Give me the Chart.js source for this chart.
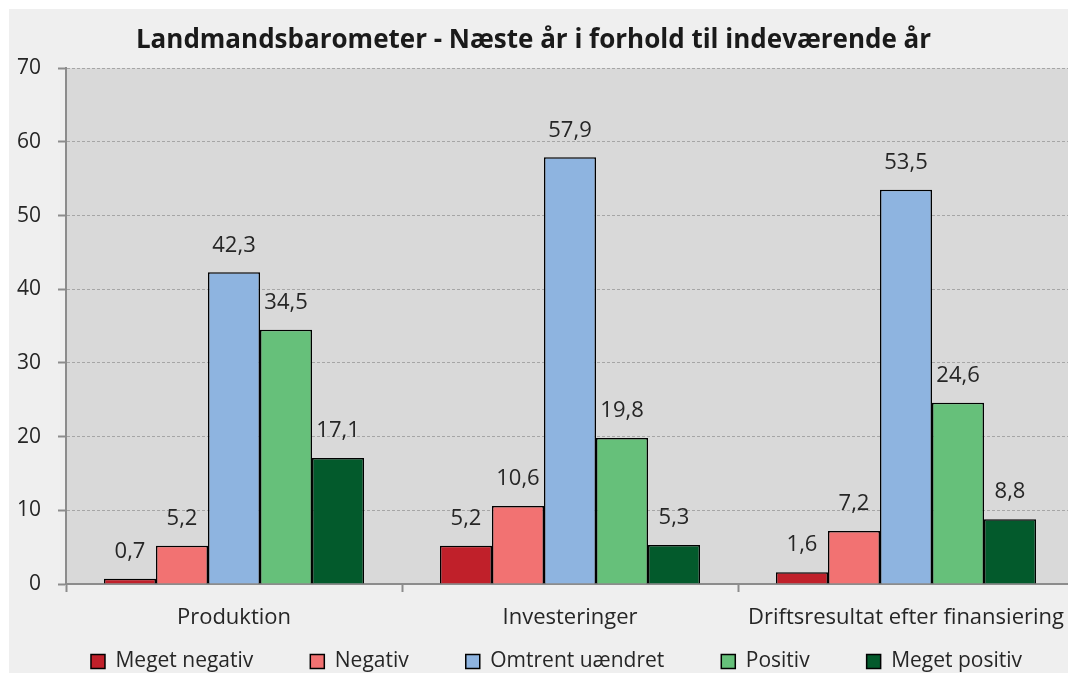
<!DOCTYPE html>
<html>
<head>
<meta charset="utf-8">
<script src="https://cdn.jsdelivr.net/npm/chart.js@4"></script>
<style>
  html, body { margin: 0; padding: 0; background: #ffffff; overflow: hidden; }
  #wrap { position: absolute; left: 9px; top: 9px; width: 1085px; height: 664px; background: #efefef; }
</style>
</head>
<body>
<div id="wrap"><canvas id="chart" width="1085" height="664"></canvas></div>
<script>
// Categories and series
const categories = ['Produktion', 'Investeringer', 'Driftsresultat efter finansiering'];
const seriesNames = ['Meget negativ', 'Negativ', 'Omtrent uændret', 'Positiv', 'Meget positiv'];
const megetNegativ = [0.7, 5.2, 1.6];
const negativ = [5.2, 10.6, 7.2];
const omtrentUaendret = [42.3, 57.9, 53.5];
const positiv = [34.5, 19.8, 24.6];
const megetPositiv = [17.1, 5.3, 8.8];
const seriesColors = ['#c0202a', '#f27272', '#8eb4e0', '#66c07a', '#035a2c'];

const FONT = '"Open Sans", "Noto Sans", sans-serif';
const TEXT = '#262626';

// Draw the value above each bar, with a decimal comma
const valueLabels = {
    id: 'valueLabels',
    afterDatasetsDraw(chart) {
        const ctx = chart.ctx;
        ctx.save();
        ctx.font = '22px ' + FONT;
        ctx.fillStyle = TEXT;
        ctx.textAlign = 'center';
        ctx.textBaseline = 'middle';
        chart.data.datasets.forEach((ds, i) => {
            chart.getDatasetMeta(i).data.forEach((bar, j) => {
                ctx.fillText(ds.data[j].toFixed(1).replace('.', ','), bar.x, bar.y - 27);
            });
        });
        ctx.restore();
    }
};

// Grey plot area
const plotBackground = {
    id: 'plotBackground',
    beforeDraw(chart) {
        const a = chart.chartArea;
        chart.ctx.save();
        chart.ctx.fillStyle = '#d9d9d9';
        chart.ctx.fillRect(a.left, a.top, a.right - a.left, a.bottom - a.top);
        chart.ctx.restore();
    }
};

// Pull legend up (it has wide item spacing) and title a bit left
const nudgeBoxes = {
    id: 'nudgeBoxes',
    afterLayout(chart) {
        const lg = chart.legend;
        lg.top -= 38;
        lg.left += 15; lg.right += 15;
        const t = chart.titleBlock;
        t.left -= 8; t.right -= 8;
    }
};

const allSeries = [megetNegativ, negativ, omtrentUaendret, positiv, megetPositiv];

new Chart(document.getElementById('chart'), {
    type: 'bar',
    data: {
        labels: categories,
        datasets: allSeries.map((values, i) => ({
            label: seriesNames[i],
            data: values,
            backgroundColor: seriesColors[i],
            borderColor: '#000000',
            borderWidth: 1.5,
            barPercentage: 1,
            categoryPercentage: 0.774
        }))
    },
    options: {
        responsive: false,
        animation: false,
        layout: { padding: { left: 0, right: 20, top: 0, bottom: 0 } },
        scales: {
            x: {
                afterFit(scale) { scale.height = 48; },
                grid: { drawOnChartArea: false, tickLength: 8, tickColor: '#8c8c8c', tickWidth: 2 },
                border: { color: '#8c8c8c', width: 2 },
                ticks: { font: { family: FONT, size: 22 }, color: TEXT, padding: 13, maxRotation: 0, autoSkip: false }
            },
            y: {
                min: 0,
                max: 70,
                afterFit(scale) { scale.width = 57; },
                grid: { color: '#a6a6a6', tickLength: 8, tickColor: '#8c8c8c', tickWidth: 2 },
                border: { color: '#8c8c8c', width: 2, dash: [3, 2] },
                ticks: { stepSize: 10, font: { family: FONT, size: 21 }, color: TEXT, padding: 17 }
            }
        },
        plugins: {
            title: {
                display: true,
                text: 'Landmandsbarometer - Næste år i forhold til indeværende år',
                font: { family: FONT, size: 26, weight: 'bold' },
                color: '#1a1a1a',
                padding: { top: 16, bottom: 12 }
            },
            legend: {
                position: 'bottom',
                maxHeight: 41,
                labels: {
                    font: { family: FONT, size: 21 },
                    color: TEXT,
                    boxWidth: 14,
                    boxHeight: 14,
                    padding: 57,
                    useBorderRadius: false
                }
            },
            tooltip: { enabled: false }
        }
    },
    plugins: [plotBackground, valueLabels, nudgeBoxes]
});
</script>
</body>
</html>
